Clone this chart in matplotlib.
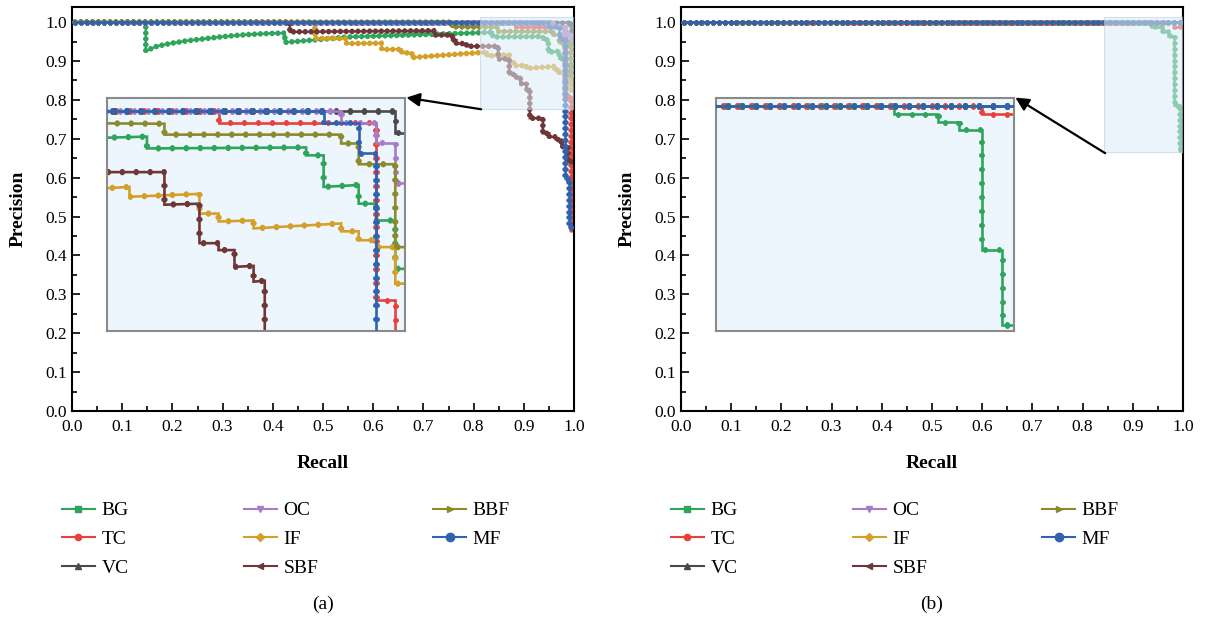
import matplotlib
matplotlib.use("Agg")
import matplotlib.pyplot as plt
from matplotlib import patheffects as pe
from matplotlib.lines import Line2D
from matplotlib.patches import Rectangle
from matplotlib.ticker import MultipleLocator

plt.rcParams['font.family'] = ['Liberation Serif', 'DejaVu Serif']

# --- data (step vertices of each PR curve) ---
METHODS = ["BG", "TC", "VC", "OC", "IF", "SBF", "BBF", "MF"]
COLORS = {"BG": "#2ea55a", "TC": "#e8413c", "VC": "#4a4a4a", "OC": "#a77bc6",
          "IF": "#d4a02a", "SBF": "#6e3636", "BBF": "#8c8a2c", "MF": "#2f63ad"}
MARKERS = {"BG": "s", "TC": "o", "VC": "^", "OC": "v",
           "IF": "D", "SBF": "<", "BBF": ">", "MF": "o"}

# panel (a)
BG_A_R = [0.0, 0.147, 0.147, 0.169, 0.195, 0.228, 0.262, 0.295, 0.328, 0.361, 0.394, 0.424,
          0.424, 0.49, 0.55, 0.65, 0.75, 0.838, 0.838, 0.938, 0.938, 0.949, 0.949, 0.971,
          0.971, 0.982, 0.982, 0.994, 0.994, 1.0]
BG_A_P = [1.0, 1.0, 0.926, 0.938, 0.945, 0.952, 0.957, 0.962, 0.966, 0.969, 0.971, 0.972,
          0.948, 0.955, 0.962, 0.966, 0.970, 0.974, 0.962, 0.963, 0.955, 0.955, 0.923, 0.925,
          0.906, 0.906, 0.889, 0.889, 0.840, 0.840]
TC_A_R = [0.0, 0.883, 0.883, 0.982, 0.982, 0.994, 0.994, 1.0]
TC_A_P = [1.0, 1.0, 0.988, 0.988, 0.808, 0.808, 0.466, 0.466]
VC_A_R = [0.0, 0.994, 0.994, 1.0]
VC_A_P = [1.0, 1.0, 0.978, 0.978]
OC_A_R = [0.0, 0.960, 0.960, 0.982, 0.982, 0.994, 0.994, 1.0]
OC_A_P = [1.0, 1.0, 0.988, 0.988, 0.968, 0.968, 0.927, 0.927]
IF_A_R = [0.0, 0.484, 0.484, 0.547, 0.547, 0.617, 0.617, 0.657, 0.657, 0.677, 0.677, 0.75,
          0.827, 0.827, 0.871, 0.871, 0.883, 0.883, 0.905, 0.905, 0.960, 0.960, 0.971,
          0.971, 0.982, 0.982, 0.994, 0.994, 1.0]
IF_A_P = [1.0, 1.0, 0.958, 0.958, 0.945, 0.946, 0.930, 0.930, 0.921, 0.921, 0.909, 0.916,
          0.923, 0.913, 0.916, 0.896, 0.896, 0.888, 0.889, 0.881, 0.886, 0.878, 0.878,
          0.869, 0.869, 0.862, 0.862, 0.825, 0.825]
SBF_A_R = [0.0, 0.434, 0.434, 0.723, 0.723, 0.757, 0.757, 0.766, 0.766, 0.786, 0.786, 0.849,
           0.849, 0.871, 0.871, 0.883, 0.883, 0.893, 0.893, 0.905, 0.905, 0.912, 0.912,
           0.938, 0.938, 0.951, 0.951, 0.964, 0.964, 0.975, 0.975, 0.988, 0.988, 1.0]
SBF_A_P = [1.0, 1.0, 0.975, 0.978, 0.967, 0.967, 0.954, 0.954, 0.945, 0.945, 0.938, 0.938,
           0.905, 0.906, 0.866, 0.866, 0.859, 0.859, 0.842, 0.843, 0.827, 0.828, 0.753,
           0.753, 0.714, 0.714, 0.705, 0.705, 0.698, 0.698, 0.680, 0.680, 0.641, 0.641]
BBF_A_R = [0.0, 0.757, 0.757, 0.849, 0.849, 0.960, 0.960, 0.971, 0.971, 0.994, 0.994, 1.0]
BBF_A_P = [1.0, 1.0, 0.988, 0.987, 0.976, 0.976, 0.967, 0.967, 0.946, 0.946, 0.862, 0.862]
MF_A_R = [0.0, 0.949, 0.949, 0.971, 0.971, 0.982, 0.982, 0.990, 0.990, 1.0]
MF_A_P = [1.0, 1.0, 0.988, 0.988, 0.957, 0.957, 0.599, 0.599, 0.473, 0.473]

# panel (b)
BG_B_R = [0.0, 0.937, 0.937, 0.960, 0.960, 0.971, 0.971, 0.983, 0.983, 0.994, 0.994, 1.0]
BG_B_P = [1.0, 1.0, 0.988, 0.988, 0.976, 0.976, 0.965, 0.965, 0.786, 0.786, 0.674, 0.674]
TC_B_R = [0.0, 0.983, 0.983, 1.0]
TC_B_P = [1.0, 1.0, 0.988, 0.988]
FLAT_R = [0.0, 1.0]
FLAT_P = [1.0, 1.0]

PANEL_A = {"BG": (BG_A_R, BG_A_P), "TC": (TC_A_R, TC_A_P), "VC": (VC_A_R, VC_A_P),
           "OC": (OC_A_R, OC_A_P), "IF": (IF_A_R, IF_A_P), "SBF": (SBF_A_R, SBF_A_P),
           "BBF": (BBF_A_R, BBF_A_P), "MF": (MF_A_R, MF_A_P)}
PANEL_B = {"BG": (BG_B_R, BG_B_P), "TC": (TC_B_R, TC_B_P), "VC": (FLAT_R, FLAT_P),
           "OC": (FLAT_R, FLAT_P), "IF": (FLAT_R, FLAT_P), "SBF": (FLAT_R, FLAT_P),
           "BBF": (FLAT_R, FLAT_P), "MF": (FLAT_R, FLAT_P)}

# zoom windows: (x0, x1, y0, y1)
ZOOM_A = (0.813, 1.0, 0.777, 1.013)
ZOOM_B = (0.843, 1.0, 0.665, 1.012)


def beads(spacing, length, width):
    # small round beads along each curve, standing in for the dense markers
    kw = dict(spacing=spacing, length=length, linewidth=width, capstyle='round')
    return [pe.Normal(),
            pe.TickedStroke(angle=90, **kw),
            pe.TickedStroke(angle=-90, **kw)]


def draw_curves(ax, panel, lw, spacing, length, width):
    for i, m in enumerate(METHODS):
        r, p = panel[m]
        ax.plot(r, p, color=COLORS[m], lw=lw, zorder=2 + i * 0.1, solid_joinstyle='miter',
                path_effects=beads(spacing, length, width))


def draw_panel(left_px, panel, zoom, arrow_tail, caption):
    ax = fig.add_axes([left_px / 1205, 1 - 411 / 622, 502 / 1205, 404 / 622])
    draw_curves(ax, panel, 1.8, 4.2, 0.1, 3.3)
    ax.set_xlim(0, 1.0)
    ax.set_ylim(0, 1.039)
    ax.xaxis.set_major_locator(MultipleLocator(0.1))
    ax.yaxis.set_major_locator(MultipleLocator(0.1))
    ax.xaxis.set_minor_locator(MultipleLocator(0.05))
    ax.yaxis.set_minor_locator(MultipleLocator(0.05))
    ax.tick_params(which='both', direction='in', top=False, right=False, width=1.2,
                   labelsize=12.5)
    ax.tick_params(which='major', length=6)
    ax.tick_params(which='minor', length=3.5)
    ax.tick_params(axis='x', pad=6)
    for s in ax.spines.values():
        s.set_linewidth(1.5)

    x0, x1, y0, y1 = zoom
    ax.add_patch(Rectangle((x0, y0), x1 - x0, y1 - y0, facecolor='#dcecf7', alpha=0.55,
                           edgecolor='#b9cdda', lw=0.8, zorder=5))

    ins = ax.inset_axes([0.07, 0.2057, 0.593, 0.599], transform=ax.transData)
    ins.set_facecolor('#edf6fc')
    draw_curves(ins, panel, 1.9, 10, 0.05, 3.6)
    ins.set_xlim(x0, x1)
    ins.set_ylim(y0, y1)
    ins.set_xticks([])
    ins.set_yticks([])
    for s in ins.spines.values():
        s.set_linewidth(1.5)
        s.set_edgecolor('#8a8a8a')

    ax.annotate('', xy=(0.666, 0.806), xytext=arrow_tail,
                arrowprops=dict(arrowstyle='-|>', color='black', lw=1.6,
                                mutation_scale=20, shrinkA=0, shrinkB=0), zorder=8)

    cx = (left_px + 251) / 1205
    fig.text(cx, 1 - 464 / 622, 'Recall', ha='center', va='center',
             fontsize=14, fontweight='bold')
    fig.text((left_px - 54) / 1205, 1 - 209 / 622, 'Precision', rotation=90,
             ha='center', va='center', fontsize=14, fontweight='bold')
    fig.text(cx, 1 - 604 / 622, caption, ha='center', va='center', fontsize=14)

    handles = [Line2D([], [], color=COLORS[m], marker=MARKERS[m], lw=1.5,
                      markersize=6 if m == "MF" else 4.5) for m in METHODS]
    fig.legend(handles, METHODS, loc='upper left', ncol=3, frameon=False,
               bbox_to_anchor=((left_px - 20) / 1205, 1 - 492 / 622),
               borderpad=0, handlelength=1.7, handletextpad=0.35,
               columnspacing=5.9, labelspacing=0.58, fontsize=14)
    return ax


fig = plt.figure(figsize=(12.05, 6.22), dpi=100)
draw_panel(72, PANEL_A, ZOOM_A, (0.815, 0.776), '(a)')
draw_panel(681, PANEL_B, ZOOM_B, (0.845, 0.663), '(b)')

fig.savefig('out.png', dpi=100)
